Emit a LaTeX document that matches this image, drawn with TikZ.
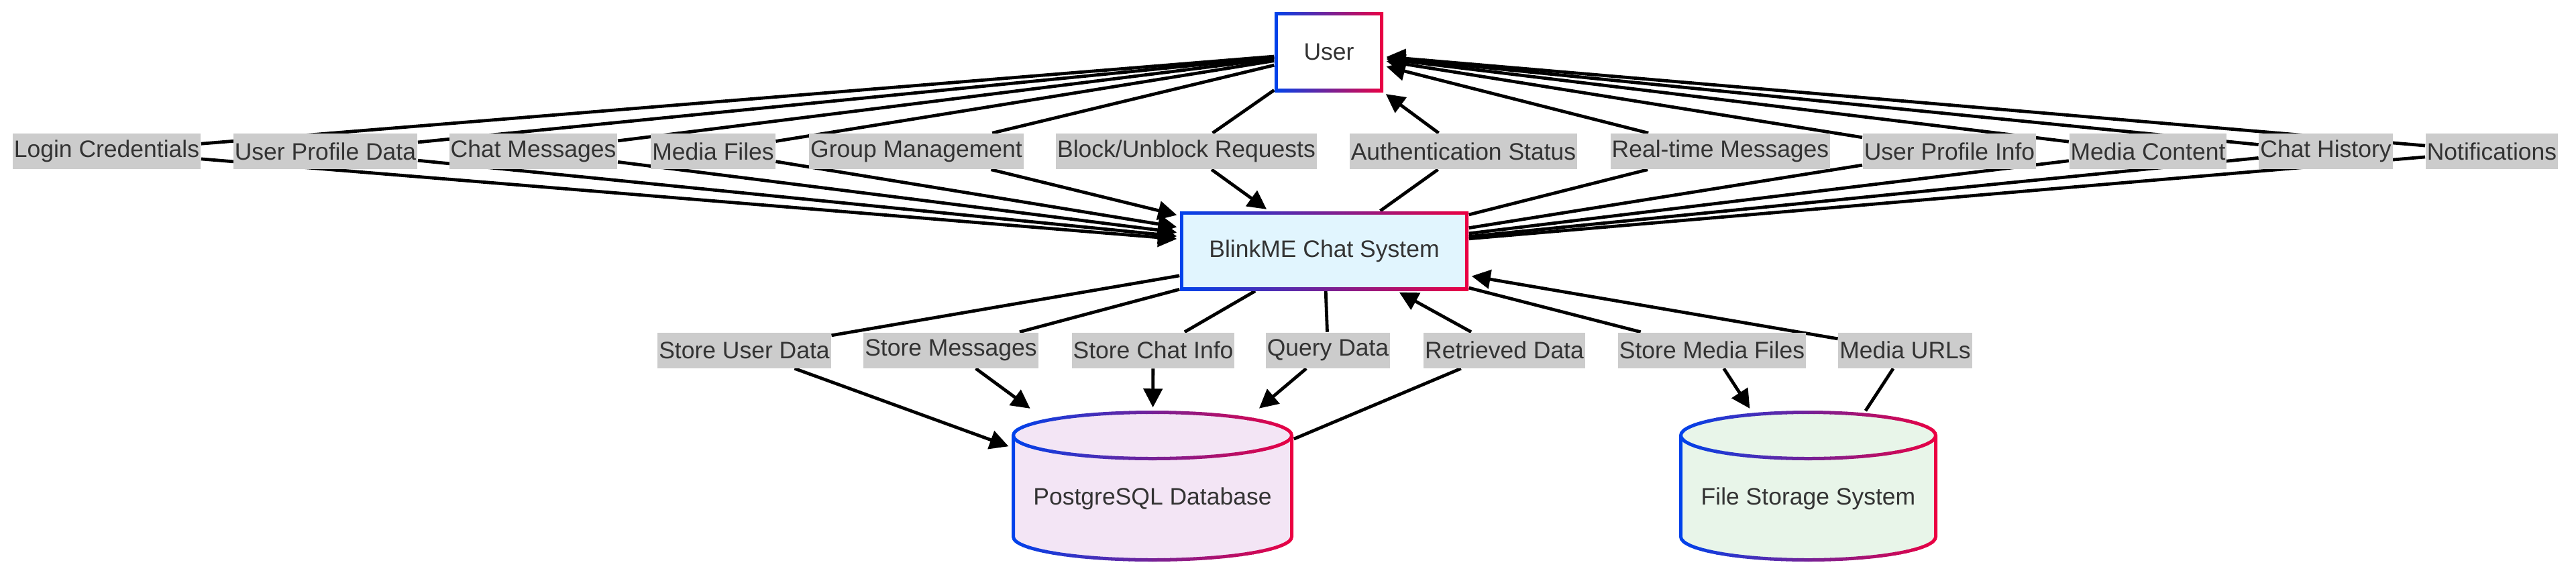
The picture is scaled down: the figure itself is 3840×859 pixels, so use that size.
\documentclass[tikz,border=0pt]{standalone}
\usepackage{fontspec}
\setmainfont{Liberation Sans}
\usepackage{tikz}
\usetikzlibrary{arrows.meta,backgrounds}
\tikzset{every picture/.style={line width=0.75pt}}

\definecolor{gblue}{RGB}{0,66,235}
\definecolor{gred}{RGB}{235,0,66}
\definecolor{txtgrey}{RGB}{51,51,51}
\definecolor{lblgrey}{RGB}{204,204,204}
\definecolor{sysfill}{RGB}{225,245,254}
\definecolor{dbfill}{RGB}{243,229,245}
\definecolor{fsfill}{RGB}{232,245,233}

\tikzset{
  flowlbl/.style={fill=lblgrey, text=txtgrey, inner xsep=1pt, inner ysep=0pt, minimum height=26.5pt, font=\fontsize{17.75}{21}\selectfont},
  boxtxt/.style={text=txtgrey, inner sep=0pt, font=\fontsize{17.75}{21}\selectfont},
  flow/.style={line width=2.4pt, -{Triangle[length=14pt,width=14pt]}, shorten >=2pt}
}

% framed box with a blue-red border: x1,y1,x2,y2,fill
\newcommand{\gradbox}[5]{%
  \shade[left color=gblue, right color=gred] (#1,#2) rectangle (#3,#4);
  \fill[#5] ({#1+5},{#2+5}) rectangle ({#3-5},{#4-5});
}
% cylinder with a blue-red border: cx,rx,fill
\newcommand{\gradcyl}[3]{%
  \fill[#3] ({#1-#2},649) -- ({#1-#2},800) arc[start angle=180, end angle=0, x radius=#2, y radius=34.5] -- ({#1+#2},649) arc[start angle=0, end angle=-180, x radius=#2, y radius=34.5] -- cycle;
  \pgfmathsetmacro{\stripw}{(2*#2+8)/48}%
  \foreach \k in {0,...,47}{%
    \pgfmathtruncatemacro{\pc}{100*\k/47}%
    \begin{scope}
      \clip ({#1-#2-4+\stripw*\k},600) rectangle ++({\stripw+1},250);
      \draw[line width=2.5pt, color=gred!\pc!gblue] ({#1-#2},649) -- ({#1-#2},800) arc[start angle=180, end angle=0, x radius=#2, y radius=34.5] -- ({#1+#2},649) arc[start angle=0, end angle=-180, x radius=#2, y radius=34.5] -- cycle;
      \draw[line width=2.5pt, color=gred!\pc!gblue] ({#1-#2},649) arc[start angle=180, end angle=0, x radius=#2, y radius=34.5];
    \end{scope}
  }%
}

\begin{document}
\begin{tikzpicture}[x=0.5pt,y=0.5pt,yscale=-1,xscale=1]
\useasboundingbox (0,0) rectangle (3840,859);

%Shapes
\gradbox{1900}{18}{2062}{137}{white}
\gradbox{1759}{315}{2189}{433}{sysfill}
\gradcyl{1718}{207.5}{dbfill}
\gradcyl{2695.5}{190}{fsfill}

% Text Node
\node[boxtxt, minimum width=81pt, minimum height=59.5pt] (user) at (1981,77.5) {User};
\node[boxtxt, minimum width=215pt, minimum height=59pt] (sys) at (1974,374) {BlinkME Chat System};
\node[boxtxt, minimum width=210pt, minimum height=131pt] (db) at (1718,743) {PostgreSQL Database};
\node[boxtxt, minimum width=192.5pt, minimum height=130pt] (fs) at (2695.5,743) {File Storage System};

% Text Node
\node[flowlbl] (lc) at (159,225.5) {Login Credentials};
\node[flowlbl] (upd) at (485,225.5) {User Profile Data};
\node[flowlbl] (cm) at (795,225.5) {Chat Messages};
\node[flowlbl] (mf) at (1063,225.5) {Media Files};
\node[flowlbl] (gm) at (1366,225.5) {Group Management};
\node[flowlbl] (bu) at (1768.5,225.5) {Block/Unblock Requests};
\node[flowlbl] (as) at (2181.5,225.5) {Authentication Status};
\node[flowlbl] (rt) at (2564.5,225.5) {Real-time Messages};
\node[flowlbl] (upi) at (2906,225.5) {User Profile Info};
\node[flowlbl] (mc) at (3202,225.5) {Media Content};
\node[flowlbl] (ch) at (3467,225.5) {Chat History};
\node[flowlbl] (nt) at (3714.5,225.5) {Notifications};

% Text Node
\node[flowlbl] (sud) at (1109.5,522) {Store User Data};
\node[flowlbl] (sm) at (1417.5,522) {Store Messages};
\node[flowlbl] (sci) at (1719,522) {Store Chat Info};
\node[flowlbl] (qd) at (1979.5,522) {Query Data};
\node[flowlbl] (rd) at (2242.5,522) {Retrieved Data};
\node[flowlbl] (smf) at (2552,522) {Store Media Files};
\node[flowlbl] (mu) at (2840,522) {Media URLs};

%Straight Lines
\begin{scope}[on background layer]
\draw[flow] (user) -- (lc) -- (sys);
\draw[flow] (user) -- (upd) -- (sys);
\draw[flow] (user) -- (cm) -- (sys);
\draw[flow] (user) -- (mf) -- (sys);
\draw[flow] (user) -- (gm) -- (sys);
\draw[flow] (user) -- (bu) -- (sys);
\draw[flow] (sys) -- (as) -- (user);
\draw[flow] (sys) -- (rt) -- (user);
\draw[flow] (sys) -- (upi) -- (user);
\draw[flow] (sys) -- (mc) -- (user);
\draw[flow] (sys) -- (ch) -- (user);
\draw[flow] (sys) -- (nt) -- (user);
\draw[flow] (sys) -- (sud) -- (db);
\draw[flow] (sys) -- (sm) -- (db);
\draw[flow] (sys) -- (sci) -- (db);
\draw[flow] (sys) -- (qd) -- (db);
\draw[flow] (db) -- (rd) -- (sys);
\draw[flow] (sys) -- (smf) -- (fs);
\draw[flow] (fs) -- (mu) -- (sys);
\end{scope}
\end{tikzpicture}
\end{document}
